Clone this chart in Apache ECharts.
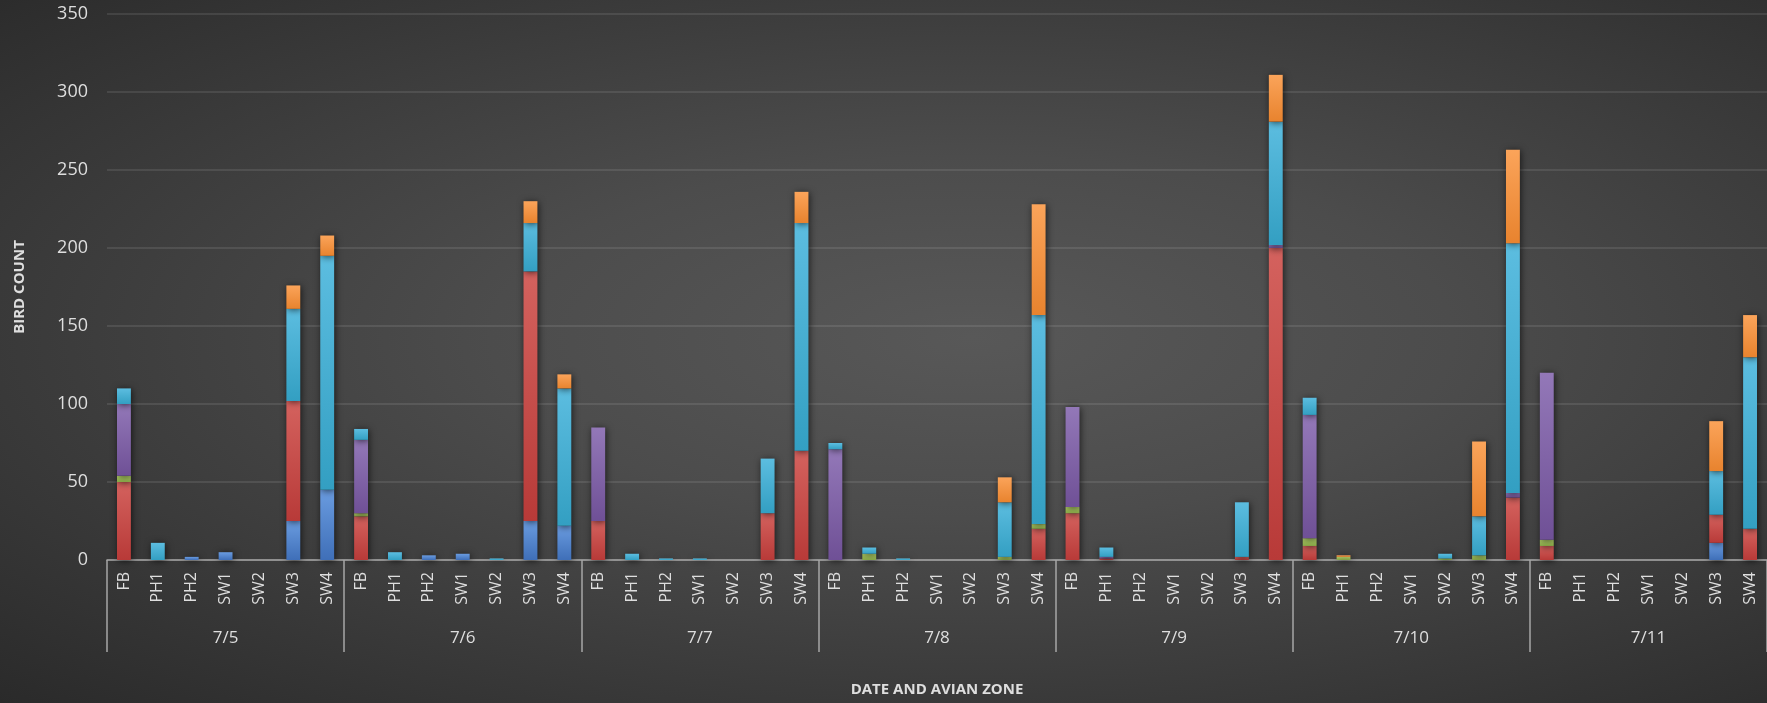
<!DOCTYPE html>
<html>
<head>
<meta charset="utf-8">
<script src="https://cdn.jsdelivr.net/npm/echarts@6/dist/echarts.min.js"></script>
<style>
html,body{margin:0;padding:0;}
#chart{width:1767px;height:703px;background:radial-gradient(ellipse farthest-corner at 55% 48%, #585858 0%, #4c4c4c 35%, #2a2a2a 100%);}
</style>
</head>
<body>
<div id="chart"></div>
<script>
const dates = ['7/5','7/6','7/7','7/8','7/9','7/10','7/11'];
const zones = ['FB','PH1','PH2','SW1','SW2','SW3','SW4'];
const yTicks = [0,50,100,150,200,250,300,350];

// values per date: FB, PH1, PH2, SW1, SW2, SW3, SW4
const blueVals = [
  0,0,2,5,0,25,45,
  0,0,3,4,0,25,22,
  0,0,0,0,0,0,0,
  0,0,0,0,0,0,0,
  0,0,0,0,0,0,0,
  0,0,0,0,0,0,0,
  0,0,0,0,0,11,0
];
const redVals = [
  50,0,0,0,0,77,0,
  28,0,0,0,0,160,0,
  25,0,0,0,0,30,70,
  0,0,0,0,0,0,20,
  30,1,0,0,0,2,200,
  9,0,0,0,0,0,40,
  9,0,0,0,0,18,20
];
const greenVals = [
  4,0,0,0,0,0,0,
  2,0,0,0,0,0,0,
  0,0,0,0,0,0,0,
  0,4,0,0,0,2,3,
  4,0,0,0,0,0,0,
  5,2,0,0,1,3,0,
  4,0,0,0,0,0,0
];
const purpleVals = [
  46,0,0,0,0,0,0,
  47,0,0,0,0,0,0,
  60,0,0,0,0,0,0,
  71,0,0,0,0,0,0,
  64,1,0,0,0,0,2,
  79,0,0,0,0,0,3,
  107,0,0,0,0,0,0
];
const cyanVals = [
  10,11,0,0,0,59,150,
  7,5,0,0,1,31,88,
  0,4,1,1,0,35,146,
  4,4,1,0,0,35,134,
  0,6,0,0,0,35,79,
  11,0,0,0,3,25,160,
  0,0,0,0,0,28,110
];
const orangeVals = [
  0,0,0,0,0,15,13,
  0,0,0,0,0,14,9,
  0,0,0,0,0,0,20,
  0,0,0,0,0,16,71,
  0,0,0,0,0,0,30,
  0,1,0,0,0,48,60,
  0,0,0,0,0,32,27
];

const categories = [];
dates.forEach(d => zones.forEach(z => categories.push(z)));

const seriesDefs = [
  {name:'Blue', data: blueVals, c1:'#6a9ce0', c2:'#3f6fb8'},
  {name:'Red', data: redVals, c1:'#d4625e', c2:'#b83a38'},
  {name:'Green', data: greenVals, c1:'#b3d06a', c2:'#8aab48'},
  {name:'Purple', data: purpleVals, c1:'#9378b8', c2:'#6f5096'},
  {name:'Aqua', data: cyanVals, c1:'#5cbde0', c2:'#339fc2'},
  {name:'Orange', data: orangeVals, c1:'#fba45a', c2:'#e8832e'}
];

const textColor = '#dedede';
const font = 'Open Sans';

const chart = echarts.init(document.getElementById('chart'));
chart.setOption({
  backgroundColor: 'transparent',
  animation: false,
  grid: {left: 107, right: 0, top: 14, bottom: 143},
  xAxis: [
    {
      type: 'category',
      data: categories,
      axisLine: {show: true, lineStyle: {color: '#a6a6a6', width: 1.5}},
      axisTick: {show: false},
      axisLabel: {interval: 0, rotate: 90, color: textColor, fontSize: 16, fontFamily: font, margin: 12},
      name: 'DATE AND AVIAN ZONE',
      nameLocation: 'middle',
      nameGap: 122,
      nameTextStyle: {color: textColor, fontSize: 15, fontWeight: 'bold', fontFamily: font}
    },
    {
      type: 'category',
      data: dates,
      position: 'bottom',
      axisLine: {show: false},
      axisTick: {show: true, length: 92, lineStyle: {color: '#a6a6a6', width: 1.5}},
      axisLabel: {interval: 0, color: textColor, fontSize: 17, fontFamily: font, margin: 70},
      splitLine: {show: false}
    }
  ],
  yAxis: {
    type: 'value',
    min: 0,
    max: 350,
    interval: 50,
    axisLine: {show: false},
    axisTick: {show: false},
    axisLabel: {color: textColor, fontSize: 18, fontFamily: font, margin: 19,
      formatter: v => yTicks.includes(v) ? String(v) : ''},
    splitLine: {lineStyle: {color: 'rgba(255,255,255,0.13)', width: 1.5}},
    name: 'BIRD COUNT',
    nameLocation: 'middle',
    nameRotate: 90,
    nameGap: 80,
    nameTextStyle: {color: textColor, fontSize: 15, fontWeight: 'bold', fontFamily: font}
  },
  series: seriesDefs.map(s => ({
    name: s.name,
    type: 'bar',
    stack: 'total',
    xAxisIndex: 0,
    barWidth: '41%',
    data: s.data.map(v => v === 0 ? '-' : v),
    itemStyle: {
      color: new echarts.graphic.LinearGradient(0, 0, 0, 1, [
        {offset: 0, color: s.c1}, {offset: 1, color: s.c2}
      ]),
      shadowBlur: 7,
      shadowColor: 'rgba(0,0,0,0.65)',
      shadowOffsetX: 1,
      shadowOffsetY: 1
    }
  }))
});
</script>
</body>
</html>
